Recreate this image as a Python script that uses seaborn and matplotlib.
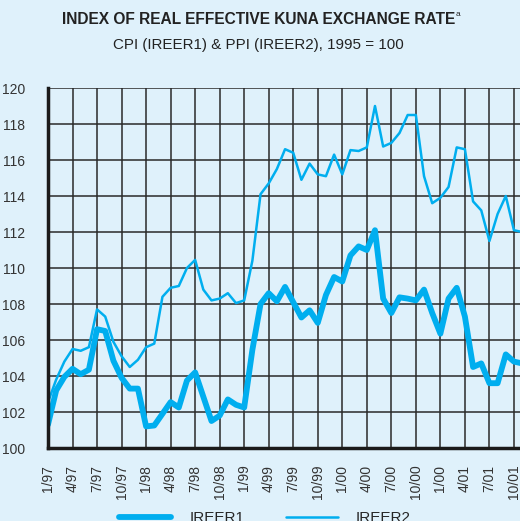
import numpy as np
import pandas as pd
import matplotlib
matplotlib.use("Agg")
import matplotlib.pyplot as plt
import seaborn as sns

# monthly data, 1/97 .. 11/01
ireer1 = [101.3, 103.2, 103.95, 104.4, 104.1, 104.35, 106.6, 106.5, 104.85, 103.9, 103.3, 103.3,
          101.2, 101.25, 101.9, 102.55, 102.25, 103.75, 104.2, 102.85, 101.5, 101.8, 102.7, 102.4,
          102.25, 105.45, 108.0, 108.6, 108.15, 108.95, 108.1, 107.25, 107.65, 106.95, 108.5, 109.5,
          109.25, 110.7, 111.2, 111.0, 112.1, 108.3, 107.5, 108.37, 108.3, 108.2, 108.8, 107.5,
          106.35, 108.3, 108.9, 107.3, 104.5, 104.7, 103.6, 103.6, 105.2, 104.8, 104.7]
ireer2 = [102.55, 103.8, 104.8, 105.5, 105.4, 105.6, 107.7, 107.3, 105.9, 105.1, 104.5, 104.9,
          105.6, 105.8, 108.4, 108.9, 109.0, 110.0, 110.45, 108.8, 108.2, 108.3, 108.6, 108.05,
          108.2, 110.4, 114.1, 114.7, 115.5, 116.6, 116.4, 114.9, 115.8, 115.2, 115.1, 116.3,
          115.2, 116.55, 116.5, 116.7, 119.0, 116.75, 116.95, 117.5, 118.5, 118.5, 115.1, 113.6,
          113.9, 114.5, 116.7, 116.6, 113.7, 113.2, 111.5, 113.0, 114.0, 112.1, 112.0]
tick_labels = ["1/97", "4/97", "7/97", "10/97", "1/98", "4/98", "7/98", "10/98", "1/99", "4/99",
               "7/99", "10/99", "1/00", "4/00", "7/00", "10/00", "1/00", "4/01", "7/01", "10/01"]

df = pd.DataFrame({"month": np.arange(len(ireer1)), "IREER1": ireer1, "IREER2": ireer2})

bg = "#dff1fb"
blue = "#00aeef"

sns.set_style("white")
plt.rcParams["font.family"] = ["Liberation Sans", "DejaVu Sans"]

fig = plt.figure(figsize=(5.2, 5.21), dpi=100, facecolor=bg)
ax = fig.add_axes([48/520, 73/521, 472/520, 360/521])
ax.set_facecolor(bg)

sns.lineplot(data=df, x="month", y="IREER1", ax=ax, color=blue, linewidth=4.2, label="IREER1")
sns.lineplot(data=df, x="month", y="IREER2", ax=ax, color=blue, linewidth=1.8, label="IREER2")

ax.set_xlim(0, 57.74)
ax.set_ylim(100, 120)
ax.set_xticks(np.arange(0, 58, 3))
ax.set_xticklabels(tick_labels, rotation=90, fontsize=10, color="#333333")
ax.set_yticks(np.arange(100, 121, 2))
ax.set_yticklabels([str(v) for v in range(100, 121, 2)], fontsize=10, color="#333333")
ax.set_xlabel("")
ax.set_ylabel("")
ax.grid(True, color="#2a2a2a", linewidth=1.1)
ax.set_axisbelow(True)
for s in ["top", "right"]:
    ax.spines[s].set_visible(False)
for s in ["left", "bottom"]:
    ax.spines[s].set_color("#1a1a1a")
    ax.spines[s].set_linewidth(2.5)
ax.tick_params(axis="x", direction="out", length=6, width=1.2, color="#777777", pad=6)
ax.tick_params(axis="y", direction="out", length=8, width=1.1, color="#2a2a2a", pad=8.5)

handles, labels = ax.get_legend_handles_labels()
ax.get_legend().remove()
fig.legend(handles, labels, ncol=2, loc="center", bbox_to_anchor=(0.51, 0.005),
           frameon=False, fontsize=11, handlelength=3.4, handletextpad=1.2,
           columnspacing=2.7)

t = fig.text(0.497, 0.962, "INDEX OF REAL EFFECTIVE KUNA EXCHANGE RATE", ha="center", va="center",
             fontsize=11.2, fontweight="bold", color="#222222")
ax.annotate("a", xy=(1, 0.85), xycoords=t, xytext=(0.3, 0), textcoords="offset points",
            fontsize=6, va="center", ha="left", color="#222222", annotation_clip=False)
fig.text(0.497, 0.913, "CPI (IREER1) & PPI (IREER2), 1995 = 100", ha="center", va="center",
         fontsize=10.9, color="#222222")

plt.savefig("out.png", dpi=100, facecolor=bg)
